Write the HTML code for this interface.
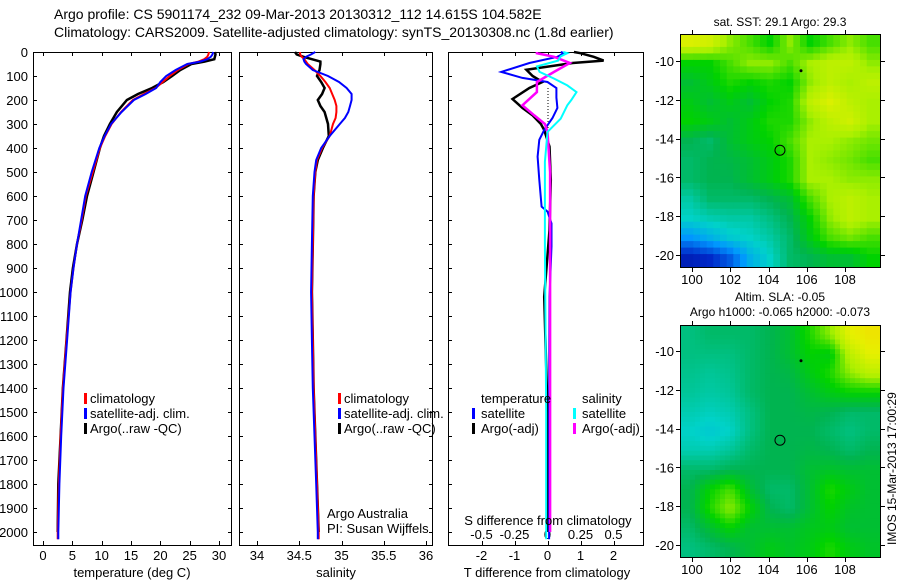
<!DOCTYPE html>
<html><head><meta charset="utf-8">
<style>
html,body{margin:0;padding:0;background:#fff;}
svg{display:block;font-family:"Liberation Sans",sans-serif;}
text{fill:#000;}
</style></head>
<body>
<svg id="chart" width="900" height="580" viewBox="0 0 900 580">
<text x="54" y="19" font-size="14">Argo profile: CS 5901174_232 09-Mar-2013 20130312_112 14.615S 104.582E</text>
<text x="54" y="37" font-size="14">Climatology: CARS2009. Satellite-adjusted climatology: synTS_20130308.nc (1.8d earlier)</text>
</svg>
<script>
// ---------- data ----------
const depthTicks = [0,100,200,300,400,500,600,700,800,900,1000,1100,1200,1300,1400,1500,1600,1700,1800,1900,2000];
const tempTicks = [0,5,10,15,20,25,30];
const salTicks = [34,34.5,35,35.5,36];
const salTickLabels = ["34","34.5","35","35.5","36"];
const tdiffTicks = [-2,-1,0,1,2];
const sdiffTicks = [-0.5,-0.25,0,0.25,0.5];
const sdiffTickLabels = ["-0.5","-0.25","0","0.25","0.5"];

const depthT = [0,10,20,30,40,50,75,100,125,150,175,200,250,300,350,400,500,600,700,800,900,1000,1200,1400,1600,1800,2000,2030];
const climT = [28.3,28.2,28.0,27.5,26.5,24.8,23.0,21.6,20.4,19.2,17.2,15.3,13.3,11.7,10.6,9.7,8.5,7.3,6.6,5.8,5.2,4.7,4.0,3.4,3.0,2.7,2.5,2.5];
const satT = [29.0,28.9,28.6,28.0,26.8,24.6,22.6,21.0,20.0,19.3,17.5,15.5,13.4,11.6,10.5,9.6,8.3,7.2,6.5,5.8,5.2,4.7,4.1,3.5,3.1,2.8,2.6,2.6];
const depthArgoT = [0,10,20,30,40,50,75,100,125,150,175,200,250,300,350,400,500,600,700,800,900,1000,1200,1400,1600,1800,2000];
const argoT = [29.3,29.4,29.3,29.2,27.5,25.3,23.4,22.0,20.5,18.6,16.2,14.3,12.6,11.4,10.4,9.7,8.6,7.5,6.7,5.8,5.1,4.6,4.0,3.4,3.0,2.6,2.5];

const depthS = [0,10,20,30,40,50,75,100,125,150,175,200,225,250,275,300,350,400,450,500,600,800,1000,1200,1400,1600,1800,2000,2030];
const climS = [34.51,34.51,34.53,34.56,34.58,34.6,34.68,34.75,34.81,34.86,34.89,34.92,34.94,34.94,34.93,34.9,34.86,34.77,34.71,34.69,34.67,34.66,34.65,34.66,34.67,34.69,34.71,34.73,34.73];
const satS = [34.69,34.64,34.58,34.55,34.56,34.58,34.66,34.84,34.97,35.06,35.12,35.12,35.1,35.08,35.04,34.98,34.86,34.76,34.70,34.68,34.66,34.65,34.64,34.65,34.66,34.68,34.70,34.72,34.72];
const depthArgoS = [0,10,20,30,40,50,75,100,125,150,175,200,225,250,275,300,350,400,450,500,600,800,1000,1200,1400,1600,1800,2000];
const argoS = [34.45,34.47,34.55,34.65,34.75,34.75,34.74,34.71,34.76,34.8,34.77,34.72,34.75,34.8,34.82,34.84,34.85,34.78,34.72,34.69,34.67,34.66,34.65,34.66,34.67,34.69,34.71,34.73];

const depthDTsat = [0,5,20,46,83,108,125,150,190,233,275,325,366,436,533,644,665,714,810,1020,1500,2030];
const dTsat = [0.4,0.5,0.3,-0.55,-1.4,-0.76,0,0.27,0.27,0.3,0.15,-0.1,-0.25,-0.3,-0.25,-0.18,0,0.12,0.12,0.06,0.05,0.05];
const depthDTargo = [0,5,20,36,46,74,100,125,150,196,233,264,300,325,394,533,742,1020,1500,2000];
const dTargo = [0.8,1.0,1.4,1.7,0.76,-0.64,-0.45,-0.15,-0.55,-1.06,-0.76,-0.45,-0.2,-0.1,0.06,0.1,0.06,-0.1,0,0];
const depthDSsat = [0,5,18,36,60,83,111,139,167,200,222,278,333,458,800,1500,2030];
const dSsat = [0.12,0.15,0.1,0.08,-0.08,-0.06,0.05,0.15,0.22,0.18,0.15,0.1,0,-0.02,-0.02,-0.01,-0.01];
const depthDSargo = [0,5,20,46,83,125,167,222,264,300,333,500,1000,1500,2000];
const dSargo = [-0.08,-0.08,0.05,0.17,0.05,-0.08,-0.08,-0.19,-0.1,-0.02,0,0.02,0.02,0.02,0.02];

const lonTicks = [100,102,104,106,108];
const latTicks = [-10,-12,-14,-16,-18,-20];
const sstGrid = [
[0.8,0.78,0.7,0.65,0.6,0.7,0.6,0.65,0.7,0.65],
[0.6,0.6,0.65,0.7,0.7,0.65,0.72,0.75,0.75,0.7],
[0.55,0.58,0.62,0.6,0.62,0.6,0.7,0.75,0.72,0.75],
[0.58,0.55,0.58,0.55,0.6,0.62,0.75,0.8,0.75,0.72],
[0.6,0.58,0.55,0.58,0.62,0.62,0.7,0.75,0.78,0.72],
[0.52,0.5,0.55,0.58,0.6,0.65,0.72,0.72,0.7,0.68],
[0.5,0.52,0.53,0.55,0.58,0.62,0.72,0.7,0.68,0.65],
[0.5,0.52,0.52,0.55,0.58,0.62,0.72,0.72,0.7,0.7],
[0.45,0.5,0.5,0.5,0.52,0.55,0.65,0.72,0.75,0.72],
[0.42,0.44,0.45,0.45,0.48,0.52,0.6,0.7,0.75,0.72],
[0.3,0.35,0.4,0.42,0.45,0.5,0.58,0.65,0.68,0.65],
[0.12,0.15,0.22,0.35,0.42,0.5,0.52,0.55,0.55,0.6]];
const slaGrid = [
[0.48,0.5,0.5,0.5,0.52,0.55,0.62,0.7,0.82,0.85],
[0.48,0.48,0.48,0.5,0.52,0.55,0.6,0.58,0.75,0.82],
[0.47,0.46,0.47,0.5,0.52,0.53,0.58,0.62,0.7,0.75],
[0.46,0.45,0.46,0.5,0.52,0.52,0.55,0.58,0.6,0.6],
[0.44,0.43,0.44,0.48,0.52,0.52,0.53,0.52,0.5,0.5],
[0.42,0.4,0.42,0.48,0.52,0.52,0.52,0.5,0.48,0.5],
[0.44,0.44,0.46,0.5,0.52,0.52,0.53,0.52,0.5,0.52],
[0.5,0.5,0.52,0.52,0.52,0.52,0.55,0.56,0.55,0.55],
[0.52,0.6,0.65,0.55,0.5,0.5,0.55,0.62,0.58,0.55],
[0.52,0.62,0.7,0.6,0.52,0.5,0.55,0.6,0.56,0.55],
[0.5,0.55,0.6,0.55,0.55,0.55,0.57,0.58,0.55,0.55],
[0.48,0.5,0.52,0.55,0.58,0.56,0.58,0.62,0.58,0.56]];
const argoPos = [104.6,-14.6];
const otherFloat = [105.7,-10.5];

// ---------- helpers ----------
const NS="http://www.w3.org/2000/svg";
const svg=document.getElementById('chart');
function mk(tag,attrs,parent){const e=document.createElementNS(NS,tag);for(const k in attrs)e.setAttribute(k,attrs[k]);(parent||svg).appendChild(e);return e;}
const TOP=52, BOT=545;
const yD = d => TOP + d*0.24;
function lin(v0,p0,v1,p1){return v=>p0+(v-v0)*(p1-p0)/(v1-v0);}
const xT = lin(0,43,30,219);
const xS = lin(34,257,36,426);
const xTd = lin(0,547.5,1,580.5);
const xSd = lin(0,547.5,0.25,580.5);

function panel(name,x0,x1){
  const r=mk('rect',{x:x0+0.5,y:TOP+0.5,width:x1-x0,height:BOT-TOP,fill:'none',stroke:'#000','stroke-width':1});
  
  
  depthTicks.forEach(d=>{
    const t=mk('path',{d:`M${x0} ${yD(d)+0.5}h4M${x1+1} ${yD(d)+0.5}h-4`,stroke:'#000'});
    
    
  });
}
function xticks(name,ticks,labels,fx){
  ticks.forEach((v,i)=>{
    const x=Math.round(fx(v))+0.5;
    const t=mk('path',{d:`M${x} ${BOT}v-4M${x} ${TOP}v4`,stroke:'#000'});
    
    
    const l=mk('text',{x:fx(v),y:560,'font-size':13,'text-anchor':'middle'});
    l.textContent=labels?labels[i]:String(v);
    
    
  });
}
function line(name,depths,vals,fx,color,w){
  const pts=vals.map((v,i)=>fx(v).toFixed(1)+','+yD(depths[i]).toFixed(1)).join(' ');
  const p=mk('polyline',{points:pts,fill:'none',stroke:color,'stroke-width':w||2,'stroke-linejoin':'miter'});
  
  
}
function txt(name,x,y,s,opt){
  const t=mk('text',Object.assign({x:x,y:y,'font-size':13},opt||{}));
  t.textContent=s;
  
  
  return t;
}
function legendBar(name,x,y,color){
  const r=mk('rect',{x:x,y:y-10,width:3,height:11,fill:color});
  
  
}

// ---------- panel 1 temperature ----------
panel('temperature-panel',33,231);
depthTicks.forEach(d=>{
  const l=mk('text',{x:28,y:yD(d)+5,'font-size':13,'text-anchor':'end'});
  l.textContent=String(d);
  
  
});
xticks('temperature',tempTicks,null,xT);
line('argo-temperature-line',depthArgoT,argoT,xT,'#000',2.5);
line('climatology-temperature-line',depthT,climT,xT,'#f00');
line('satellite-temperature-line',depthT,satT,xT,'#00f');
txt('temperature-axis-title',132,577,'temperature (deg C)',{'text-anchor':'middle'});
legendBar('legend-climatology-marker',84,403,'#f00');
txt('legend-climatology',90,403,'climatology');
legendBar('legend-satellite-marker',84,418,'#00f');
txt('legend-satellite-adj',90,418,'satellite-adj. clim.');
legendBar('legend-argo-marker',84,433,'#000');
txt('legend-argo',90,433,'Argo(..raw -QC)');

// ---------- panel 2 salinity ----------
panel('salinity-panel',239,432);
xticks('salinity',salTicks,salTickLabels,xS);
line('argo-salinity-line',depthArgoS,argoS,xS,'#000',2.5);
line('climatology-salinity-line',depthS,climS,xS,'#f00');
line('satellite-salinity-line',depthS,satS,xS,'#00f');
txt('salinity-axis-title',336,577,'salinity',{'text-anchor':'middle'});
legendBar('legend2-climatology-marker',338,403,'#f00');
txt('legend2-climatology',344,403,'climatology');
legendBar('legend2-satellite-marker',338,418,'#00f');
txt('legend2-satellite-adj',344,418,'satellite-adj. clim.');
legendBar('legend2-argo-marker',338,433,'#000');
txt('legend2-argo',344,433,'Argo(..raw -QC)');
txt('argo-australia-label',327,518,'Argo Australia');
txt('pi-label',327,533,'PI: Susan Wijffels');

// ---------- panel 3 differences ----------
panel('difference-panel',448,643);
xticks('t-difference',tdiffTicks,null,xTd);
sdiffTicks.forEach((v,i)=>{
  const x=Math.round(xSd(v))+0.5;
  const t=mk('path',{d:`M${x} ${BOT}v-4`,stroke:'#000'});
  
  
  const l=mk('text',{x:xSd(v),y:539,'font-size':13,'text-anchor':'middle'});
  l.textContent=sdiffTickLabels[i];
  
  
});
const zl=mk('line',{x1:548,x2:548,y1:yD(150),y2:yD(330),stroke:'#000','stroke-dasharray':'1,2'});


line('argo-t-difference-line',depthDTargo,dTargo,xTd,'#000',2.5);
line('satellite-t-difference-line',depthDTsat,dTsat,xTd,'#00f');
line('argo-s-difference-line',depthDSargo,dSargo,xSd,'#f0f',2.5);
line('satellite-s-difference-line',depthDSsat,dSsat,xSd,'#0ff');
txt('t-difference-axis-title',547,577,'T difference from climatology',{'text-anchor':'middle'});
txt('s-difference-axis-title',548,525,'S difference from climatology',{'text-anchor':'middle'});
txt('legend3-temperature-header',481,403,'temperature');
txt('legend3-salinity-header',582,403,'salinity');
legendBar('legend3-t-satellite-marker',472,418,'#00f');
txt('legend3-t-satellite',481,418,'satellite');
legendBar('legend3-t-argo-marker',472,433,'#000');
txt('legend3-t-argo',481,433,'Argo(-adj)');
legendBar('legend3-s-satellite-marker',573,418,'#0ff');
txt('legend3-s-satellite',582,418,'satellite');
legendBar('legend3-s-argo-marker',573,433,'#f0f');
txt('legend3-s-argo',582,433,'Argo(-adj)');

// ---------- maps ----------
function cmap(v){
  const stops=[[0,[0,0,120]],[0.15,[0,40,200]],[0.3,[0,150,255]],[0.42,[0,210,200]],[0.52,[0,180,80]],[0.6,[0,210,0]],[0.72,[170,240,0]],[0.82,[230,240,0]],[0.92,[255,200,0]],[1,[255,140,0]]];
  for(let i=1;i<stops.length;i++){if(v<=stops[i][0]){const a=stops[i-1],b=stops[i];const f=(v-a[0])/(b[0]-a[0]);const c=a[1].map((x,j)=>Math.round(x+(b[1][j]-x)*f));return `rgb(${c})`;}}
  return 'rgb(255,140,0)';
}
function sample(grid,fr,fc){
  const R=grid.length-1,C=grid[0].length-1;
  fr=Math.max(0,Math.min(R,fr));fc=Math.max(0,Math.min(C,fc));
  const r0=Math.floor(fr),c0=Math.floor(fc),r1=Math.min(R,r0+1),c1=Math.min(C,c0+1);
  const a=fr-r0,b=fc-c0;
  return grid[r0][c0]*(1-a)*(1-b)+grid[r0][c1]*(1-a)*b+grid[r1][c0]*a*(1-b)+grid[r1][c1]*a*b;
}
function map(name,grid,y0,y1,tenY,twentyY,sub){
  const x0=680,x1=880;
  const fx=lin(100,692,108,845);
  const fy=lin(-10,tenY,-20,twentyY);
  const rows=grid.length*sub, cols=grid[0].length*sub;
  const cw=(x1-x0)/cols, ch=(y1-y0)/rows;
  for(let r=0;r<rows;r++)for(let c=0;c<cols;c++){
    const v=sample(grid,(r+0.5)/sub-0.5,(c+0.5)/sub-0.5);
    const cell=mk('rect',{x:(x0+c*cw).toFixed(1),y:(y0+r*ch).toFixed(1),width:(cw+0.6).toFixed(1),height:(ch+0.6).toFixed(1),fill:cmap(v)});
    
    
  }
  const fr=mk('rect',{x:x0+0.5,y:y0+0.5,width:x1-x0,height:y1-y0,fill:'none',stroke:'#000'});
  
  
  lonTicks.forEach(v=>{
    const x=Math.round(fx(v))+0.5;
    const t=mk('path',{d:`M${x} ${y0}v-4M${x} ${y1+1}v4`,stroke:'#000'});
    
    
    const l=mk('text',{x:fx(v),y:y1+17,'font-size':13,'text-anchor':'middle'});
    l.textContent=String(v);
    
    
  });
  latTicks.forEach(v=>{
    const y=Math.round(fy(v))+0.5;
    const t=mk('path',{d:`M${x0} ${y}h-4M${x1+1} ${y}h4`,stroke:'#000'});
    
    
    const l=mk('text',{x:674,y:fy(v)+5,'font-size':13,'text-anchor':'end'});
    l.textContent=String(v);
    
    
  });
  const c=mk('circle',{cx:fx(argoPos[0]),cy:fy(argoPos[1]),r:5,fill:'none',stroke:'#000','stroke-width':1});
  
  
  const m=mk('circle',{cx:fx(otherFloat[0]),cy:fy(otherFloat[1]),r:1.5,fill:'#000'});
  
  
}
map('sst-map',sstGrid,34,267,61,255,3);
txt('sst-map-title',780,26,'sat. SST: 29.1  Argo: 29.3',{'text-anchor':'middle','font-size':12});
map('sla-map',slaGrid,325,557,351,545,4);
txt('sla-map-title',780,301,'Altim. SLA: -0.05',{'text-anchor':'middle','font-size':12});
txt('sla-map-subtitle',780,316,'Argo h1000: -0.065 h2000: -0.073',{'text-anchor':'middle','font-size':12});
txt('imos-timestamp',896,545,'IMOS 15-Mar-2013 17:00:29',{'font-size':12,transform:'rotate(-90 896 545)'});
</script>
</body></html>
